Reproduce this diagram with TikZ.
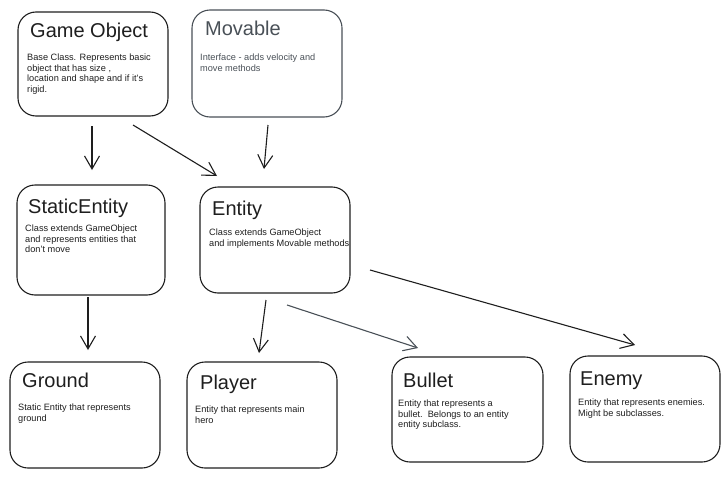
\documentclass[tikz,border=0pt]{standalone}
\usepackage{fontspec}
\setmainfont{Liberation Sans}
\usetikzlibrary{arrows.meta,calc}
\definecolor{ink}{HTML}{1E1E1E}
\definecolor{grayink}{HTML}{495057}
\tikzset{
  box/.style={draw=ink, line width=1.1pt, rounded corners=18pt, inner sep=0pt},
  graybox/.style={box, draw=grayink},
  title/.style={anchor=base west, inner sep=0pt, font=\fontsize{20}{23}\selectfont, text=ink},
  body/.style={anchor=north west, inner sep=0pt, align=left, font=\fontsize{9.2}{10.4}\selectfont, text=ink},
  arr/.style={draw=ink, line width=1.1pt, -{Straight Barb[length=13pt,width=15pt,line width=1.1pt]}},
  grayarr/.style={arr, draw=grayink, -{Straight Barb[length=13pt,width=15pt,line width=1.1pt,color=grayink]}}
}
\begin{document}
\begin{tikzpicture}[x=1pt,y=-1pt]
\useasboundingbox (0,0) rectangle (728,479);
% boxes
\node[box, minimum width=150, minimum height=104] (go) at (93,64) {};
\node[graybox, minimum width=150, minimum height=107] (mv) at (267,63.5) {};
\node[box, minimum width=148, minimum height=110] (se) at (91,240) {};
\node[box, minimum width=150, minimum height=106] (en) at (275,240) {};
\node[box, minimum width=150, minimum height=106] (gr) at (85,415) {};
\node[box, minimum width=150, minimum height=106] (pl) at (262,415) {};
\node[box, minimum width=151, minimum height=105] (bu) at (467.5,409.5) {};
\node[box, minimum width=150, minimum height=106] (em) at (645,409) {};
% titles
\node[title] (got) at (30,37) {Game Object};
\node[title, text=grayink] (mvt) at (205,35) {Movable};
\node[title] (set) at (28,213) {StaticEntity};
\node[title] (ent) at (212,215) {Entity};
\node[title] (grt) at (22,387) {Ground};
\node[title] (plt) at (200,389) {Player};
\node[title] (but) at (403,387) {Bullet};
\node[title] (emt) at (580,385) {Enemy};
% bodies
\node[body] (gob) at (27,54) {Base Class. Represents basic\\object that has size ,\\location and shape and if it's\\rigid.};
\node[body, text=grayink] (mvb) at (200,54) {Interface - adds velocity and\\move methods};
\node[body] (seb) at (25,225) {Class extends GameObject\\and represents entities that\\don't move};
\node[body] (enb) at (209,229) {Class extends GameObject\\and implements Movable methods};
\node[body] (grb) at (18,404) {Static Entity that represents\\ground};
\node[body] (plb) at (195,406) {Entity that represents main\\hero};
\node[body] (bub) at (398,400) {Entity that represents a\\bullet.\ \ Belongs to an entity\\entity subclass.};
\node[body] (emb) at (578,399) {Entity that represents enemies.\\Might be subclasses.};
% connector end points
\coordinate (a1s) at (92,126);  \coordinate (a1e) at (92,170);
\coordinate (a2s) at (133,125); \coordinate (a2e) at (217,176);
\coordinate (a3s) at (268,125); \coordinate (a3e) at (264,169);
\coordinate (a4s) at (88,297);  \coordinate (a4e) at (88,350);
\coordinate (a5s) at (266,300); \coordinate (a5e) at (259,353);
\coordinate (a6s) at (287,305); \coordinate (a6e) at (418,348);
\coordinate (a7s) at (370,270); \coordinate (a7e) at (635,345);
\draw[arr] (a1s) -- (a1e);
\draw[arr] (a2s) -- (a2e);
\draw[arr] (a3s) -- (a3e);
\draw[arr] (a4s) -- (a4e);
\draw[arr] (a5s) -- (a5e);
\draw[grayarr] (a6s) -- (a6e);
\draw[arr] (a7s) -- (a7e);
\end{tikzpicture}
\end{document}
